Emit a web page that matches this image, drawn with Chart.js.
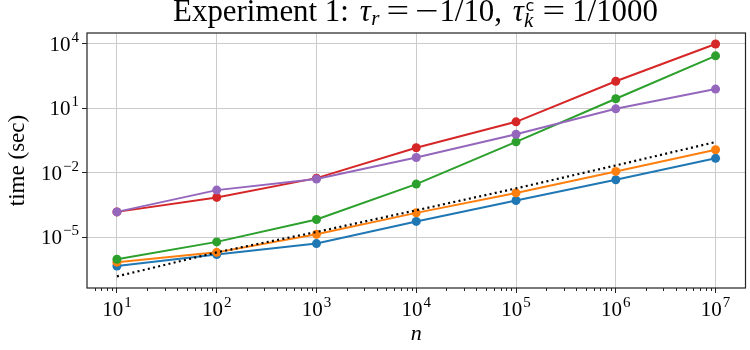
<!DOCTYPE html>
<html><head><meta charset="utf-8">
<script src="https://cdn.jsdelivr.net/npm/chart.js@4/dist/chart.umd.min.js"></script>
<style>
html,body{margin:0;padding:0;background:#fff;}
#wrap{position:relative;width:750px;height:350px;}
#title{position:absolute;left:173px;top:0;display:inline-block;font-family:"Liberation Serif","DejaVu Serif",serif;font-size:26px;line-height:1;color:#000;white-space:nowrap;}
#title .it{font-style:italic;}
#title .sub{font-size:.68em;font-style:italic;position:relative;top:.2em;margin-left:.02em;}
#title .op{display:inline-block;transform:scaleX(1.3);margin:0 .3em;}
#title .mn{display:inline-block;transform:scaleX(1.35);transform-origin:0 0;margin-right:.22em;}
#title .gap{display:inline-block;width:.35em;}
#title .ss{display:inline-block;position:relative;width:.4em;height:.1em;}
#title .ss .c{position:absolute;left:.1em;top:-1.25em;font-family:"DejaVu Sans",sans-serif;font-size:.52em;font-style:normal;line-height:1;}
#title .ss .k{position:absolute;left:0;top:-.37em;font-size:.68em;font-style:italic;line-height:1;}
</style></head>
<body><div id="wrap"><canvas id="c" width="750" height="350"></canvas>
<div id="title">Experiment 1:<span class="gap"></span><span class="it">τ</span><span class="sub">r</span><span class="op">=</span><span class="mn">−</span>1/10,<span class="gap"></span><span class="it">τ</span><span class="ss"><span class="c">c</span><span class="k">k</span></span><span class="op">=</span>1/1000</div></div>
<script>
const nValues = [1e1, 1e2, 1e3, 1e4, 1e5, 1e6, 1e7];
const blueTimes   = [4.5e-7, 1.55e-6, 5.0e-6, 5.4e-5, 5.1e-4, 4.7e-3, 0.047];
const orangeTimes = [6.8e-7, 1.95e-6, 1.35e-5, 1.35e-4, 1.15e-3, 0.0115, 0.117];
const greenTimes  = [9.3e-7, 6.0e-6, 6.6e-5, 2.95e-3, 0.275, 28, 2800];
const redTimes    = [1.5e-4, 7.1e-4, 5.6e-3, 0.145, 2.35, 182, 1.0e4];
const purpleTimes = [1.5e-4, 1.55e-3, 5.1e-3, 0.051, 0.62, 9.5, 79];
const refLine     = [1.48e-7, 1.95e-6, 1.74e-5, 1.78e-4, 1.86e-3, 0.0219, 0.269];
const xTickValues = [1e1, 1e2, 1e3, 1e4, 1e5, 1e6, 1e7];
const yTickValues = [1e-5, 1e-2, 1e1, 1e4];

// fit the title between the reference's left and right text edges
(function fitTitle(){
  const t = document.getElementById('title');
  const w0 = t.getBoundingClientRect().width;
  const F = 26 * 485 / w0;
  t.style.fontSize = F + 'px';
  const w = t.getBoundingClientRect().width;
  t.style.left = (415.5 - w/2) + 'px';
  t.style.top = (22 - 0.8375 * F) + 'px';
})();

const serif = '"Liberation Serif","DejaVu Serif",serif';
function expOf(v){ const e = Math.round(Math.log10(v)); return (e < 0 ? '\u2212' : '') + Math.abs(e); }

function series(data, color, order){
  return {data: nValues.map((x,i)=>({x, y:data[i]})), borderColor: color, backgroundColor: color,
    borderWidth: 2, pointRadius: 4.5, pointHoverRadius: 4.5, pointBorderWidth: 0, order};
}

function drawPow(ctx, v, x, baseY, align){
  ctx.font = '21px ' + serif;
  const w1 = ctx.measureText('10').width;
  const ex = expOf(v);
  ctx.font = '15px ' + serif;
  const w2 = ctx.measureText(ex).width;
  const total = w1 + 1 + w2;
  const left = align === 'center' ? x - total/2 : x - total;
  ctx.textAlign = 'left'; ctx.textBaseline = 'alphabetic';
  ctx.font = '21px ' + serif;
  ctx.fillText('10', left, baseY);
  ctx.font = '15px ' + serif;
  ctx.fillText(ex, left + w1 + 1, baseY - 9);
}

const framePlugin = {
  id:'frame',
  afterDraw(chart){
    const ctx = chart.ctx, a = chart.chartArea, xs = chart.scales.x, ys = chart.scales.y;
    ctx.save();
    ctx.strokeStyle = '#222'; ctx.lineWidth = 1;
    ctx.beginPath();
    for (let k = 0; k <= 7; k++){
      for (let m = 2; m <= 9; m++){
        const v = m * Math.pow(10, k);
        if (v < xs.min || v > xs.max) continue;
        const px = Math.round(xs.getPixelForValue(v)) + 0.5;
        ctx.moveTo(px, a.bottom); ctx.lineTo(px, a.bottom + 3);
      }
    }
    ctx.stroke();
    ctx.lineWidth = 1.2;
    ctx.strokeRect(a.left, a.top, a.right - a.left, a.bottom - a.top);
    ctx.fillStyle = '#000';
    xTickValues.forEach(v => drawPow(ctx, v, xs.getPixelForValue(v), a.bottom + 28, 'center'));
    yTickValues.forEach(v => drawPow(ctx, v, a.left - 8, ys.getPixelForValue(v) + 7, 'right'));
    ctx.restore();
  }
};

new Chart(document.getElementById('c'), {
  type: 'line',
  data: { datasets: [
    series(blueTimes, '#1f77b4', 5),
    series(orangeTimes, '#ff7f0e', 4),
    series(greenTimes, '#2ca02c', 3),
    series(redTimes, '#d62728', 2),
    series(purpleTimes, '#9467bd', 1),
    {data: nValues.map((x,i)=>({x, y:refLine[i]})), borderColor:'#000', borderWidth:2.2,
     borderDash:[2,3.3], pointRadius:0, order:0, fill:false}
  ]},
  options: {
    responsive:false, animation:false, devicePixelRatio:1,
    layout:{padding:{top:33, right:2.5, left:0, bottom:0}},
    plugins:{legend:{display:false}, tooltip:{enabled:false}},
    elements:{line:{tension:0}},
    scales:{
      x:{type:'logarithmic', min:Math.pow(10,0.7), max:Math.pow(10,7.3),
        afterBuildTicks: s => { s.ticks = xTickValues.map(v=>({value:v})); },
        afterFit: s => { s.height = 62; },
        grid:{color:'#cccccc', lineWidth:1, tickColor:'#222', tickLength:5, drawTicks:true},
        border:{display:false},
        ticks:{display:false},
        title:{display:true, text:'n', font:{family:serif, size:22, style:'italic'}, color:'#000', padding:{top:0,bottom:3}}
      },
      y:{type:'logarithmic', min:Math.pow(10,-7.37), max:Math.pow(10,4.51),
        afterBuildTicks: s => { s.ticks = yTickValues.map(v=>({value:v})); },
        afterFit: s => { s.width = 87; },
        grid:{color:'#cccccc', lineWidth:1, tickColor:'#222', tickLength:5, drawTicks:true},
        border:{display:false},
        ticks:{display:false},
        title:{display:true, text:'time (sec)', font:{family:serif, size:23}, color:'#000', padding:{top:4,bottom:0}}
      }
    }
  },
  plugins:[framePlugin]
});
</script></body></html>
